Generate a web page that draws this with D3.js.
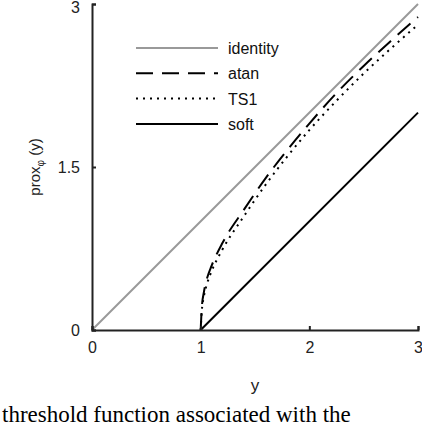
<!DOCTYPE html><html><head><meta charset="utf-8"><script src="https://cdn.jsdelivr.net/npm/d3@7"></script>
<style>body{margin:0;background:#fff}text{font-family:"Liberation Sans",Arial,sans-serif}</style></head><body>
<svg id="c" width="422" height="426"></svg>
<script>
const xTicks=[0,1,2,3], yTicks=[0,1.5,3];
const identity=[[0,0],[3,3]];
const atan=[[1,0],[1.01,0.2],[1.03,0.35],[1.06,0.48],[1.1,0.59],[1.2,0.8],[1.4,1.11],[1.6,1.4],[1.8,1.66],[2,1.9],[2.25,2.18],[2.5,2.43],[2.75,2.66],[3,2.88]];
const ts1=[[1,0],[1.01,0.17],[1.03,0.31],[1.06,0.43],[1.1,0.54],[1.2,0.74],[1.4,1.05],[1.6,1.34],[1.8,1.6],[2,1.84],[2.25,2.11],[2.5,2.36],[2.75,2.59],[3,2.81]];
const soft=[[1,0],[3,2]];
const legendNames=["identity","atan","TS1","soft"];
const svg=d3.select("#c");
const x=d3.scaleLinear().domain([0,3]).range([92,418]);
const y=d3.scaleLinear().domain([0,3]).range([330,4]);
const line=d3.line().x(d=>x(d[0])).y(d=>y(d[1])).curve(d3.curveMonotoneX);
const styles=[{c:"#999",w:2,d:null},{c:"#000",w:2,d:"17,9"},{c:"#000",w:2,d:"2,5"},{c:"#000",w:2,d:null}];
[identity,atan,ts1,soft].forEach((s,i)=>svg.append("path").attr("d",line(s)).attr("fill","none").attr("stroke",styles[i].c).attr("stroke-width",styles[i].w).attr("stroke-dasharray",styles[i].d));
const gx=svg.append("g").attr("transform","translate(0,330)").call(d3.axisBottom(x).tickValues(xTicks).tickSize(-4).tickPadding(12).tickFormat(d3.format("d")));
const gy=svg.append("g").attr("transform","translate(92,0)").call(d3.axisLeft(y).tickValues(yTicks).tickSize(-4).tickPadding(12).tickFormat(d=>d));
[gx,gy].forEach(g=>{g.select(".domain").attr("stroke","#222").attr("stroke-width",2);g.selectAll(".tick line").attr("stroke","#222").attr("stroke-width",2);g.selectAll("text").attr("font-size",16).attr("fill","#222").style("font-family","Liberation Sans, Arial")});
gy.selectAll(".tick text").filter(d=>d===3).attr("dy","0.5em");
legendNames.forEach((n,i)=>{const yy=48+i*25.3;
svg.append("line").attr("x1",136).attr("x2",218).attr("y1",yy).attr("y2",yy).attr("stroke",styles[i].c).attr("stroke-width",2).attr("stroke-dasharray",styles[i].d);
svg.append("text").attr("x",228).attr("y",yy+6).attr("font-size",16).attr("fill","#111").text(n);});
svg.append("text").attr("x",255).attr("y",391).attr("text-anchor","middle").attr("font-size",17).attr("fill","#222").text("y");
const yl=svg.append("text").attr("transform","translate(40,167) rotate(-90)").attr("text-anchor","middle").attr("font-size",15).attr("fill","#222");
yl.append("tspan").text("prox");yl.append("tspan").attr("font-size",10).attr("dy",4).text("φ");yl.append("tspan").attr("dy",-4).text(" (y)");
svg.append("text").attr("x",2).attr("y",422).attr("font-size",23).style("font-family","Liberation Serif, Times New Roman, serif").text("threshold function associated with the");
</script></body></html>
